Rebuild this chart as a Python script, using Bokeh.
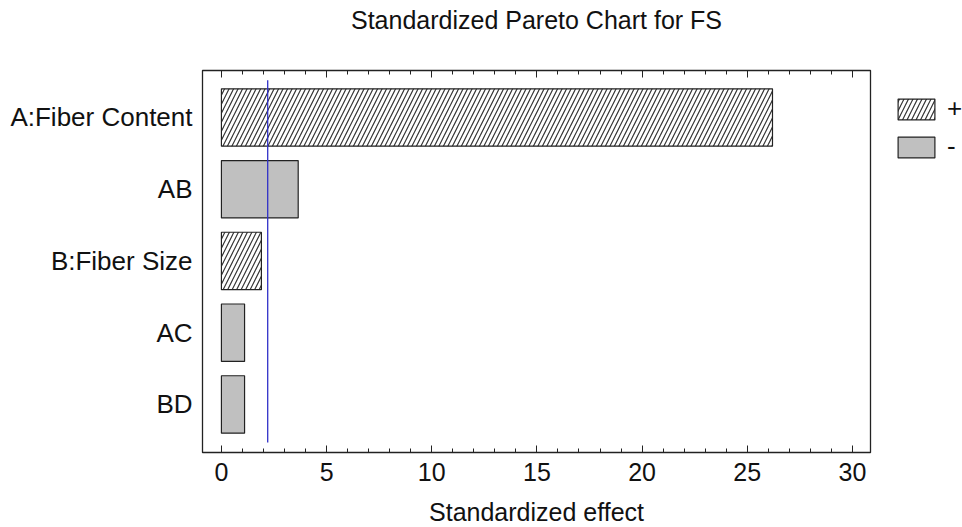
from bokeh.plotting import figure
from bokeh.models import (ColumnDataSource, FixedTicker, LinearAxis, Range1d,
                          Legend, LegendItem)
from bokeh.embed import file_html
from bokeh.resources import INLINE

# ---- data ----
factors = ["A:Fiber Content", "AB", "B:Fiber Size", "AC", "BD"]
effects = [26.2, 3.65, 1.9, 1.1, 1.1]
signs = ["+", "-", "+", "-", "-"]
critical_value = 2.2
x_ticks = [0, 5, 10, 15, 20, 25, 30]
title_text = "Standardized Pareto Chart for FS"

pos = [i for i in range(len(factors))]
pos_src = ColumnDataSource(dict(
    y=[pos[i] for i in range(len(factors)) if signs[i] == "+"],
    x=[effects[i] for i in range(len(factors)) if signs[i] == "+"]))
neg_src = ColumnDataSource(dict(
    y=[pos[i] for i in range(len(factors)) if signs[i] == "-"],
    x=[effects[i] for i in range(len(factors)) if signs[i] == "-"]))

FONT = "Liberation Sans"
n = len(factors)

p = figure(frame_width=668, frame_height=382,
           min_border_left=202, min_border_right=80,
           min_border_top=70, min_border_bottom=72,
           x_range=Range1d(-0.9, 30.86),
           y_range=Range1d(n - 1 + 0.67, -0.655),
           output_backend="svg", toolbar_location=None,
           title=title_text + "\n",
           x_axis_label="Standardized effect")

p.title.align = "center"
p.title.text_font = FONT
p.title.text_font_size = "25px"
p.title.text_font_style = "normal"
p.title.text_color = "#111111"
p.title.text_line_height = 1.32
p.title.offset = 0
p.title.standoff = 0

p.grid.visible = False
p.outline_line_color = "#222222"
p.outline_line_width = 1.3

# bars
r_pos = p.hbar(y="y", right="x", left=0, height=0.8, source=pos_src,
               fill_color="white", line_color="#222222", line_width=1.2,
               hatch_pattern="right_diagonal_line", hatch_color="#333333",
               hatch_scale=9, hatch_weight=1.2)
r_neg = p.hbar(y="y", right="x", left=0, height=0.8, source=neg_src,
               fill_color="#c0c0c0", line_color="#222222", line_width=1.2)

# critical value line
p.segment(x0=[critical_value], x1=[critical_value], y0=[-0.52], y1=[n - 1 + 0.53],
          line_color="#3030c8", line_width=1.3)

# bottom axis
xa = p.xaxis[0]
xa.ticker = FixedTicker(ticks=x_ticks, minor_ticks=list(range(0, 31)))
xa.major_tick_in = 7
xa.major_tick_out = 0
xa.minor_tick_in = 4
xa.minor_tick_out = 0
xa.major_label_text_font = FONT
xa.major_label_text_font_size = "25px"
xa.major_label_text_color = "#111111"
xa.major_label_standoff = 10
xa.axis_label_text_font = FONT
xa.axis_label_text_font_size = "25px"
xa.axis_label_text_font_style = "normal"
xa.axis_label_text_color = "#111111"
xa.axis_label_standoff = 14
xa.axis_line_color = "#222222"
xa.major_tick_line_color = "#222222"
xa.minor_tick_line_color = "#222222"

# top axis (ticks only)
ta = LinearAxis(ticker=FixedTicker(ticks=x_ticks, minor_ticks=list(range(0, 31))),
                major_tick_in=7, major_tick_out=0, minor_tick_in=4, minor_tick_out=0,
                major_label_text_font_size="0px", major_label_standoff=0,
                axis_line_color="#222222",
                major_tick_line_color="#222222", minor_tick_line_color="#222222")
ta.major_label_text_alpha = 0
p.add_layout(ta, "above")

# left axis
ya = p.yaxis[0]
ya.ticker = FixedTicker(ticks=pos)
ya.major_label_overrides = {i: factors[i] for i in range(n)}
ya.major_tick_line_color = None
ya.minor_tick_line_color = None
ya.major_label_text_font = FONT
ya.major_label_text_font_size = "26px"
ya.major_label_text_color = "#111111"
ya.major_label_standoff = 4
ya.axis_line_color = "#222222"

legend = Legend(items=[LegendItem(label="+", renderers=[r_pos]),
                       LegendItem(label="-", renderers=[r_neg])],
                location="top_left", glyph_width=46, glyph_height=26,
                spacing=7, label_standoff=8,
                border_line_alpha=0, background_fill_alpha=0,
                label_text_font=FONT, label_text_font_size="26px",
                label_text_color="#111111")
legend.margin = 17
legend.padding = 6
p.add_layout(legend, "right")

open("out.html", "w").write(file_html(p, INLINE))
